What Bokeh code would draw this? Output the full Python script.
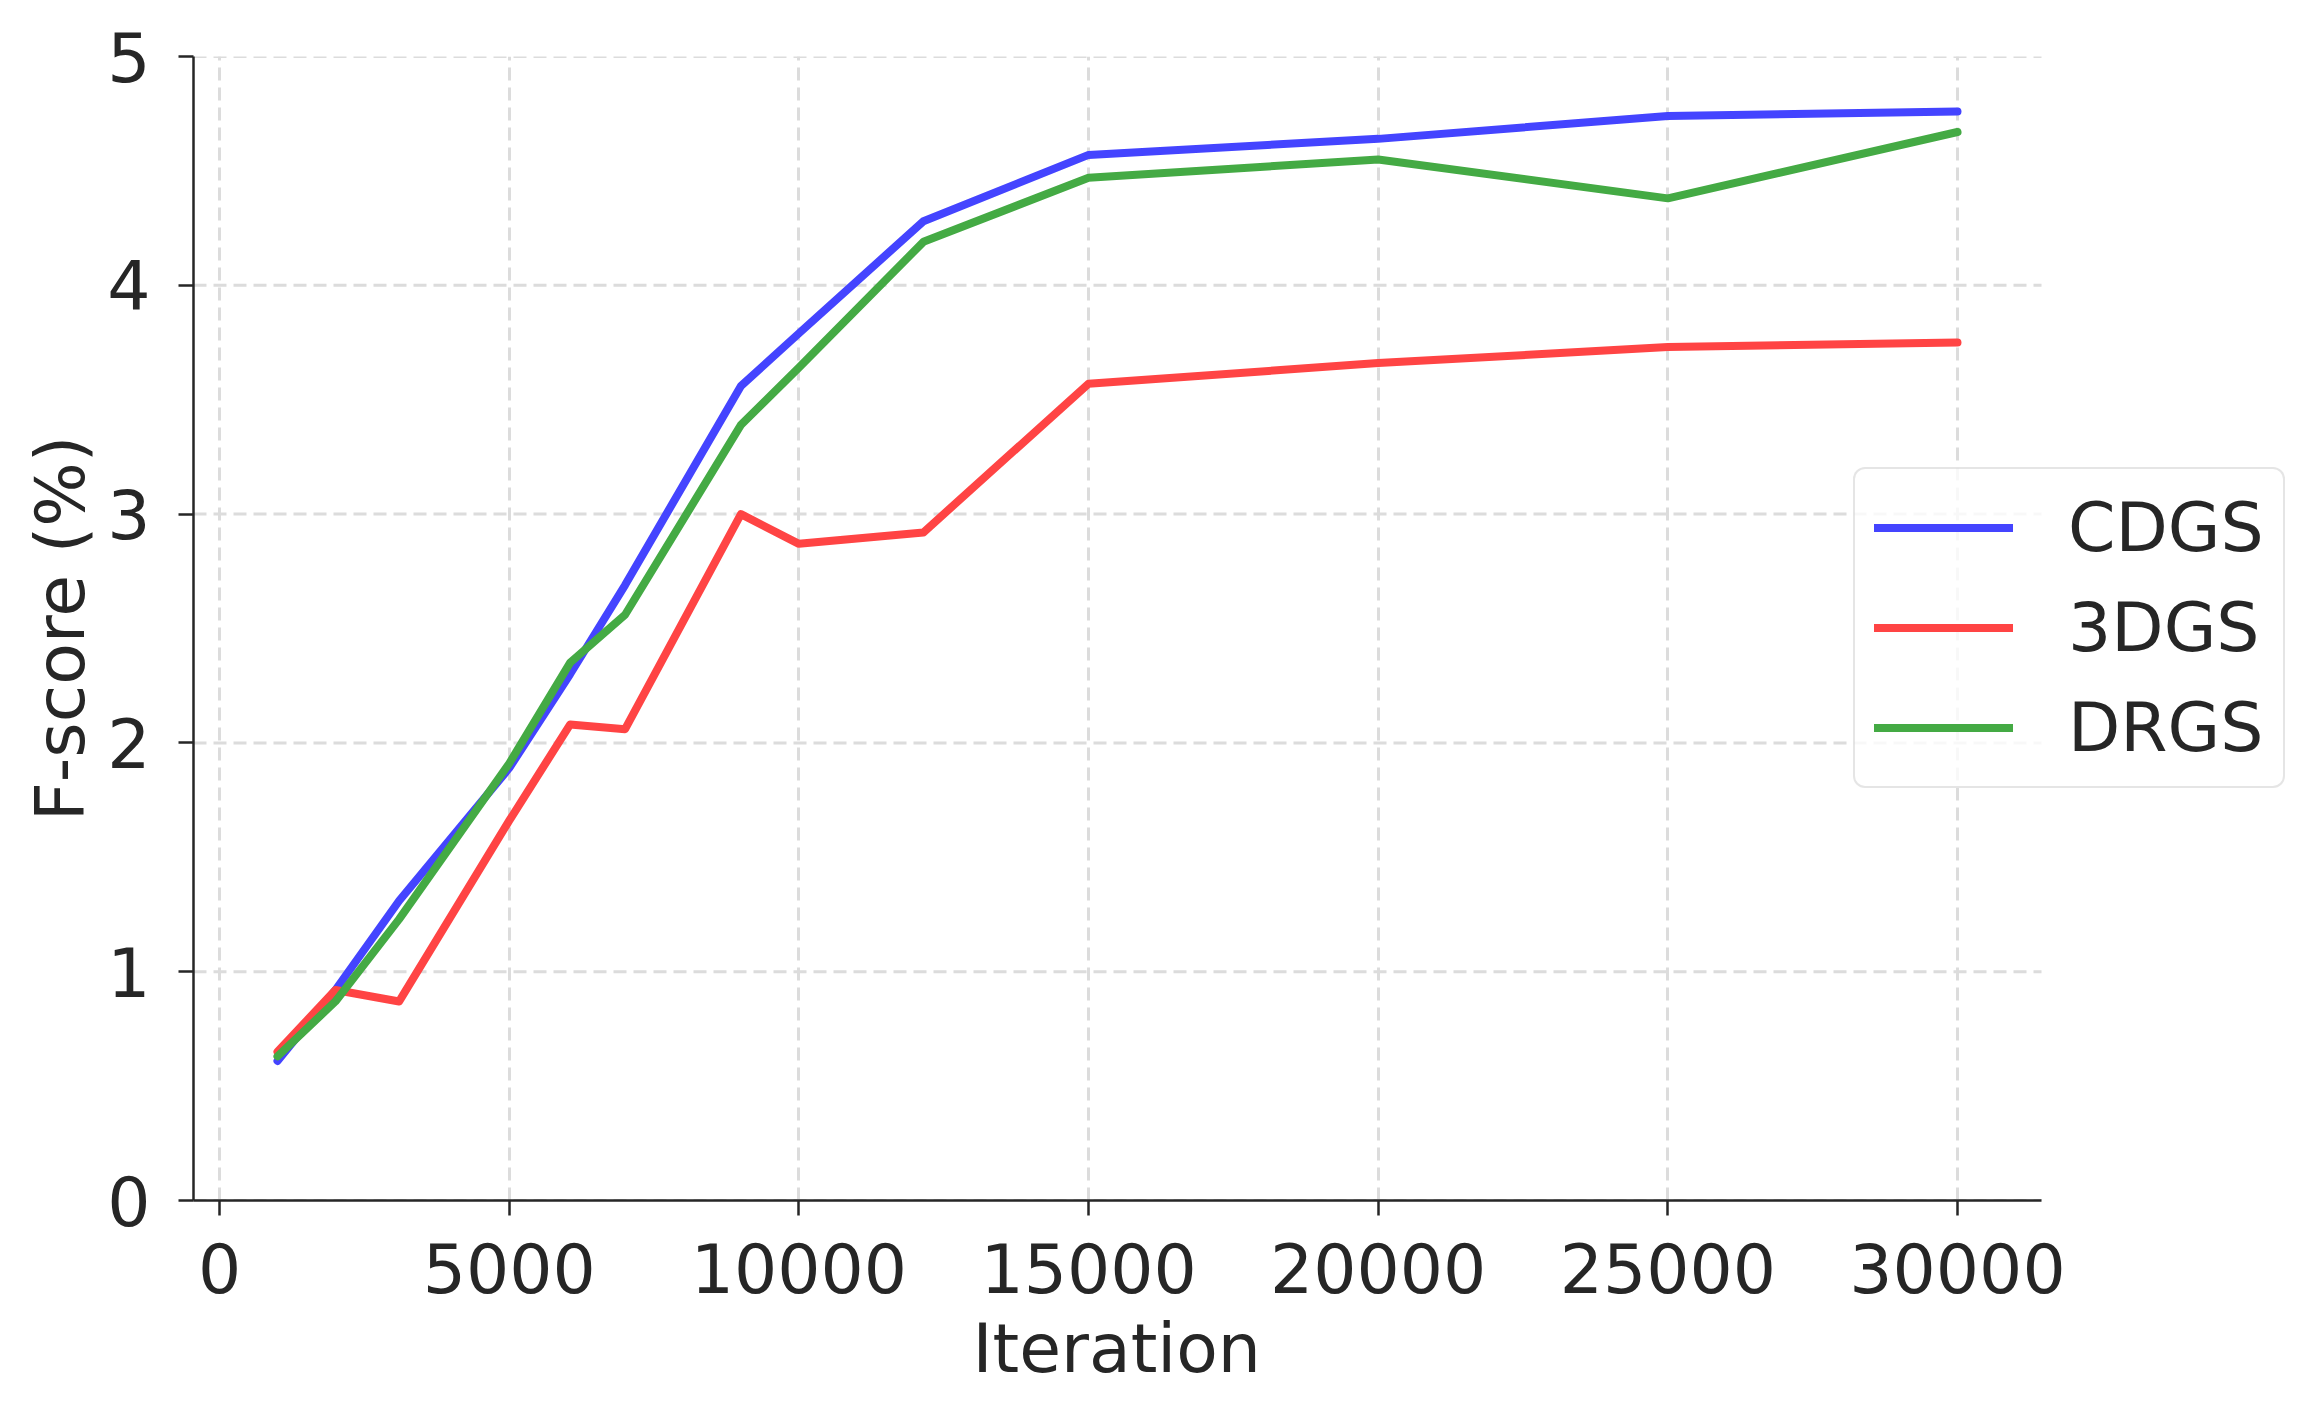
from bokeh.plotting import figure
from bokeh.models import Range1d, FixedTicker, Legend, LegendItem, Title
from bokeh.embed import file_html
from bokeh.resources import INLINE

# ---- data ----
iterations = [1000, 2000, 3100, 5000, 6050, 7000, 9000, 10000, 12150, 15000, 20000, 25000, 30000]
cdgs = [0.61, 0.92, 1.31, 1.89, 2.30, 2.69, 3.56, 3.79, 4.28, 4.57, 4.64, 4.74, 4.76]
gs3d = [0.65, 0.92, 0.87, 1.66, 2.08, 2.06, 3.00, 2.87, 2.92, 3.57, 3.66, 3.73, 3.75]
drgs = [0.63, 0.87, 1.23, 1.91, 2.35, 2.56, 3.39, 3.64, 4.19, 4.47, 4.55, 4.38, 4.67]
series_names = ["CDGS", "3DGS", "DRGS"]
series_colors = ["#4444ff", "#ff4444", "#44aa44"]
x_ticks = [0, 5000, 10000, 15000, 20000, 25000, 30000]
y_ticks = [0, 1, 2, 3, 4, 5]
x_lo, x_hi = -450, 31450   # axis extent (data limits with margins)

FONT = "DejaVu Sans"
TXT = "#262626"
FS = "68px"

W, H = 2300, 1400
LEFT, TOP, BOTTOM = 193, 56, 1200
AX_RIGHT = 2041
# frame extends to the figure's right edge so the legend is not clipped
units_per_px = (x_hi - x_lo) / (AX_RIGHT - LEFT)
x_end = x_lo + (W - LEFT) * units_per_px

p = figure(width=W, height=H, output_backend="svg", toolbar_location=None,
           x_range=Range1d(x_lo, x_end), y_range=Range1d(0, 5),
           min_border_left=LEFT, min_border_right=0,
           min_border_top=TOP, min_border_bottom=H - BOTTOM)
p.outline_line_color = None
p.background_fill_color = "white"
p.border_fill_color = "white"

GRID_COLOR = "#dcdcdc"
# horizontal grid lines limited to the axes extent
p.segment(x0=[x_lo] * len(y_ticks), y0=y_ticks, x1=[x_hi] * len(y_ticks), y1=y_ticks,
          line_color=GRID_COLOR, line_width=3, line_dash="13 7", level="underlay")

renderers = []
for name, ys, col in zip(series_names, [cdgs, gs3d, drgs], series_colors):
    r = p.line(iterations, ys, line_color=col, line_width=8,
               line_cap="round", line_join="round")
    renderers.append((name, r))

# axes
p.xaxis.ticker = FixedTicker(ticks=x_ticks)
p.yaxis.ticker = FixedTicker(ticks=y_ticks)
p.xaxis.bounds = (x_lo, x_hi)
for ax in (p.xaxis[0], p.yaxis[0]):
    ax.axis_line_color = TXT
    ax.axis_line_width = 2.5
    ax.major_tick_line_color = TXT
    ax.major_tick_line_width = 2.5
    ax.major_tick_out = 15
    ax.major_tick_in = 0
    ax.minor_tick_line_color = None
    ax.major_label_text_font = FONT
    ax.major_label_text_font_size = FS
    ax.major_label_text_color = TXT
    ax.axis_label_text_font = FONT
    ax.axis_label_text_font_size = FS
    ax.axis_label_text_color = TXT
    ax.axis_label_text_font_style = "normal"
p.yaxis.axis_label = "F-score (%)"
p.xaxis.major_label_standoff = 27
p.yaxis.major_label_standoff = 28
p.yaxis.axis_label_standoff = 4

# x-axis label, centred under the axes extent (not the widened frame)
xlabel = Title(text="Iteration", align="left", offset=1116 - 144 - LEFT,
               text_font=FONT, text_font_size=FS, text_color=TXT,
               text_font_style="normal", standoff=22)
p.add_layout(xlabel, "below")

# vertical grid
p.xgrid[0].grid_line_color = GRID_COLOR
p.xgrid[0].grid_line_width = 3
p.xgrid[0].grid_line_dash = "13 7"
p.ygrid[0].grid_line_color = None

legend = Legend(items=[LegendItem(label=n, renderers=[r]) for n, r in renderers],
                location=(1853 - LEFT, BOTTOM - 788))
legend.label_text_font = FONT
legend.label_text_font_size = FS
legend.label_text_color = TXT
legend.glyph_width = 139
legend.glyph_height = 67
legend.label_height = 67
legend.label_standoff = 55
legend.spacing = 21
legend.padding = 19
legend.margin = 0
legend.border_line_color = "#cccccc"
legend.border_line_width = 2
legend.border_radius = 12
legend.background_fill_color = "white"
legend.background_fill_alpha = 0.8
p.add_layout(legend, "center")

open("out.html", "w").write(file_html(p, INLINE))
